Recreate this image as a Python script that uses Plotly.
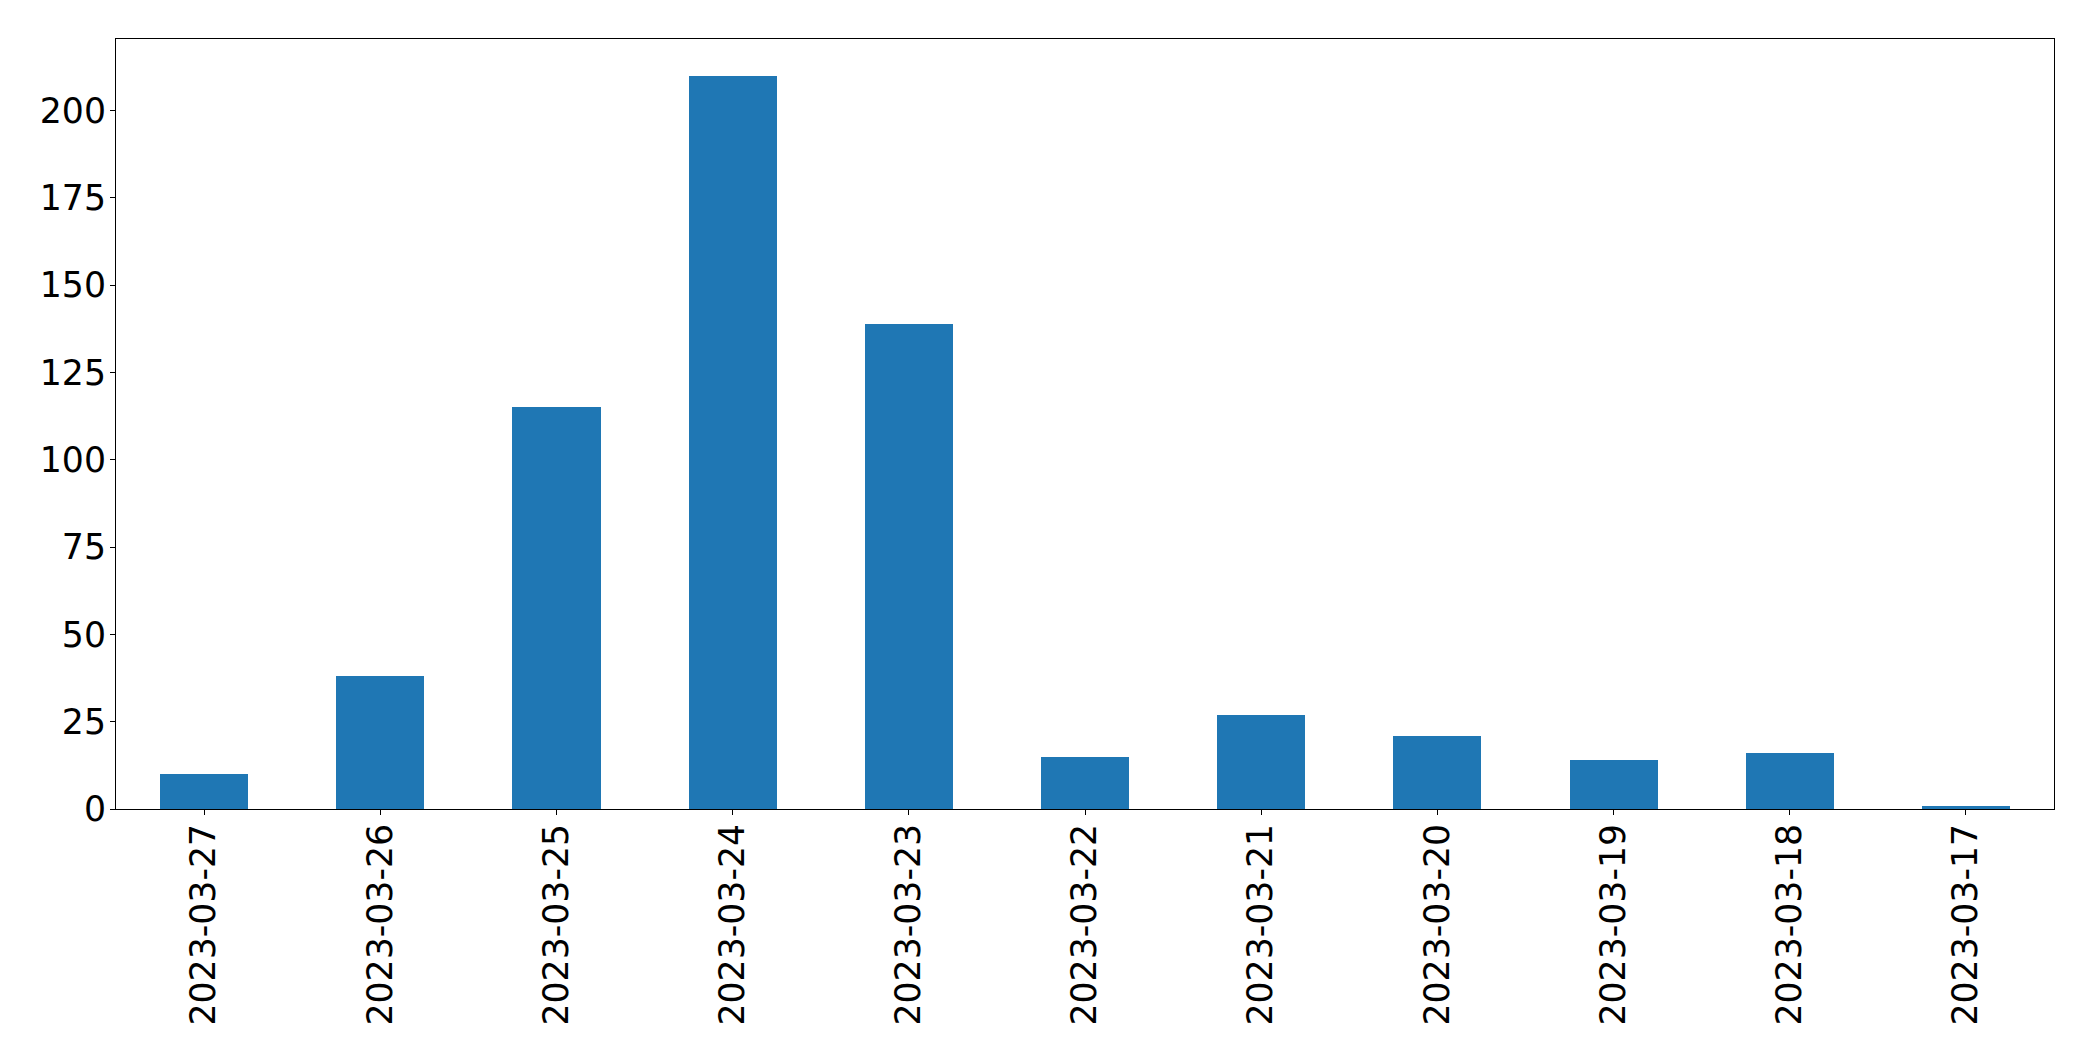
import plotly.graph_objects as go

dates = ["2023-03-27", "2023-03-26", "2023-03-25", "2023-03-24", "2023-03-23",
         "2023-03-22", "2023-03-21", "2023-03-20", "2023-03-19", "2023-03-18", "2023-03-17"]
counts = [10, 38, 115, 210, 139, 15, 27, 21, 14, 16, 1]
y_ticks = [0, 25, 50, 75, 100, 125, 150, 175, 200]

font = dict(family="DejaVu Sans", size=34.7, color="black")

fig = go.Figure(go.Bar(x=dates, y=counts, width=0.5, marker=dict(color="#1f77b4", line=dict(width=0))))

# page body has an 8px default margin; compensate
fig.update_layout(
    width=2085, height=1053,
    margin=dict(l=108.3, r=38.7, t=31.3, b=251.7),
    plot_bgcolor="white", paper_bgcolor="white",
    showlegend=False, font=font, bargap=0,
)
fig.update_xaxes(
    type="category", range=[-0.5, 10.5], tickangle=-90,
    showline=True, linecolor="black", linewidth=1.1, mirror=True,
    ticks="outside", ticklen=5, tickwidth=1.1, tickcolor="black",
    showgrid=False, zeroline=False, tickfont=font, ticklabelstandoff=-5,
)
fig.update_yaxes(
    range=[0, 220.5], tickvals=y_ticks, ticktext=[str(v) for v in y_ticks],
    showline=True, linecolor="black", linewidth=1.1, mirror=True,
    ticks="outside", ticklen=5, tickwidth=1.1, tickcolor="black",
    showgrid=False, zeroline=False, tickfont=font, ticklabelstandoff=-3,
)

fig.write_html("out.html")
